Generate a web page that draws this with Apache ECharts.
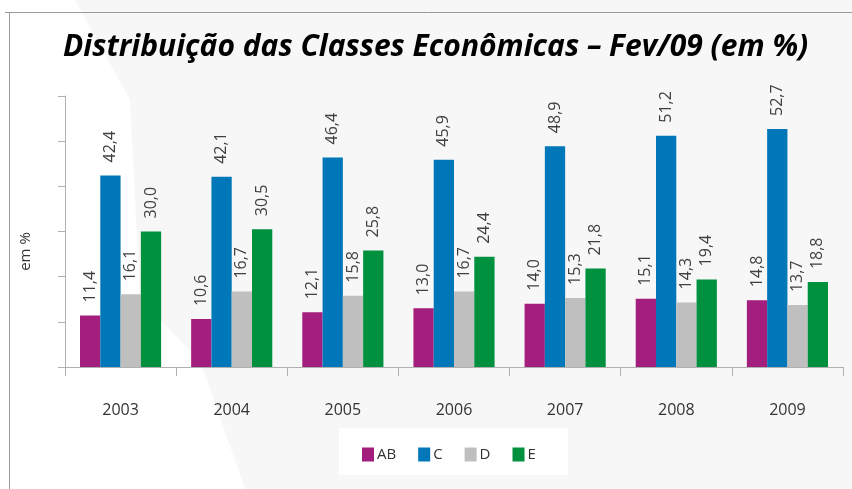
<!DOCTYPE html>
<html>
<head>
<meta charset="utf-8">
<script src="https://cdn.jsdelivr.net/npm/echarts@6/dist/echarts.min.js"></script>
<style>
  html, body { margin: 0; padding: 0; background: #f7f7f7; }
  #chart { width: 852px; height: 489px; }
</style>
</head>
<body>
<div id="chart"></div>
<script>
const years = ['2003', '2004', '2005', '2006', '2007', '2008', '2009'];
const classAB = [11.4, 10.6, 12.1, 13.0, 14.0, 15.1, 14.8];
const classC = [42.4, 42.1, 46.4, 45.9, 48.9, 51.2, 52.7];
const classD = [16.1, 16.7, 15.8, 16.7, 15.3, 14.3, 13.7];
const classE = [30.0, 30.5, 25.8, 24.4, 21.8, 19.4, 18.8];

const fontFam = '"Open Sans", "Noto Sans", sans-serif';

const myChart = echarts.init(document.getElementById('chart'));

// rótulos com vírgula decimal
const valueLabel = {
    show: true,
    position: 'top',
    rotate: 90,
    align: 'left',
    verticalAlign: 'middle',
    distance: 13,
    fontSize: 16,
    fontFamily: fontFam,
    color: '#404040',
    formatter: p => p.value.toFixed(1).replace('.', ',')
};

const makeSeries = (name, data, color) => ({
    name: name,
    type: 'bar',
    data: data,
    barGap: '0%',
    barCategoryGap: '27%',
    itemStyle: { color: color },
    label: valueLabel
});

const option = {
    backgroundColor: '#f7f7f7',
    animation: false,
    graphic: [
        {
            type: 'polygon',
            z: -10,
            shape: { points: [[0, 0], [75, 0], [130, 100], [140, 300], [200, 360], [245, 489], [0, 489]] },
            style: { fill: '#ffffff' }
        },
        {
            type: 'line',
            shape: { x1: 5, y1: 12.5, x2: 852, y2: 12.5 },
            style: { stroke: '#9a9a9a', lineWidth: 1 }
        },
        {
            type: 'line',
            shape: { x1: 9.5, y1: 12, x2: 9.5, y2: 489 },
            style: { stroke: '#9a9a9a', lineWidth: 1 }
        },
        {
            type: 'rect',
            z: -5,
            shape: { x: 339, y: 428, width: 229, height: 47 },
            style: { fill: '#ffffff' }
        }
    ],
    title: {
        text: 'Distribuição das Classes Econômicas – Fev/09 (em %)',
        left: 58,
        top: 27,
        textStyle: {
            fontFamily: fontFam,
            fontStyle: 'italic',
            fontWeight: 'bold',
            fontSize: 30,
            color: '#000'
        }
    },
    legend: {
        data: ['AB', 'C', 'D', 'E'],
        left: 357,
        top: 442,
        itemWidth: 12,
        itemHeight: 14,
        itemGap: 22,
        icon: 'rect',
        textStyle: {
            fontFamily: fontFam,
            fontSize: 15,
            color: '#333',
            padding: [8, 0, 0, -2]
        }
    },
    grid: {
        left: 65,
        right: 9,
        top: 96,
        bottom: 122
    },
    xAxis: {
        type: 'category',
        data: years,
        axisLine: { lineStyle: { color: '#b0b0b0' } },
        axisTick: { show: true, length: 9, lineStyle: { color: '#b0b0b0' } },
        axisLabel: {
            margin: 35,
            fontSize: 16,
            fontFamily: fontFam,
            color: '#333'
        }
    },
    yAxis: {
        type: 'value',
        min: 0,
        max: 60,
        interval: 10,
        name: 'em %',
        nameLocation: 'middle',
        nameGap: 32,
        nameRotate: 90,
        nameTextStyle: { fontSize: 15, fontFamily: fontFam, color: '#333', padding: [0, 40, 0, 0] },
        axisLine: { show: true, lineStyle: { color: '#b0b0b0' } },
        axisTick: { show: true, length: 7, lineStyle: { color: '#b0b0b0' } },
        axisLabel: { show: false },
        splitLine: { show: false }
    },
    series: [
        makeSeries('AB', classAB, '#a41e7d'),
        makeSeries('C', classC, '#0077b8'),
        makeSeries('D', classD, '#bfbfbf'),
        makeSeries('E', classE, '#00913e')
    ]
};

myChart.setOption(option);
</script>
</body>
</html>
